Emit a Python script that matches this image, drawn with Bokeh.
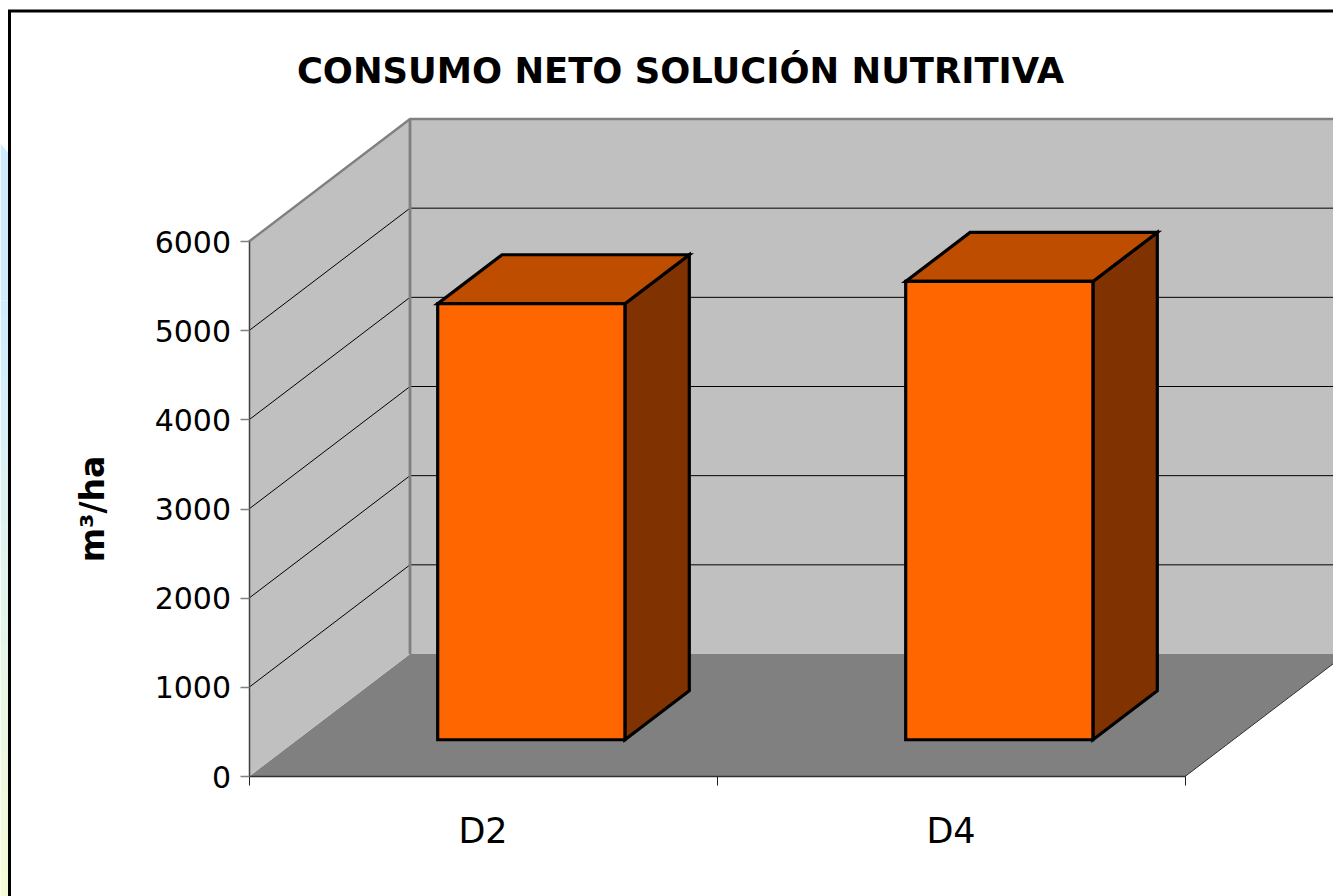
from bokeh.embed import file_html
from bokeh.resources import INLINE
from bokeh.plotting import figure
from bokeh.models import FixedTicker, Label, Range1d

# ---- data
categories = ["D2", "D4"]
consumo = [4890, 5140]
y_ticks = [0, 1000, 2000, 3000, 4000, 5000, 6000]
title_text = "CONSUMO NETO SOLUCIÓN NUTRITIVA"
y_label = "m³/ha"

# ---- layout of the pseudo-3D box (pixels)
W, H = 1333, 896
X0_PX, CAT_PX = 248.5, 468      # axis origin, category width
Y0_PX, UNIT_PX = 776, 535 / 6000  # value 0 position, px per value unit
DX_PX, DY_PX = 161, 122.5       # depth offset of the back wall
GAP_W = 0.40                    # bar width in category units
D0, D1 = 0.30, 0.70             # bar depth span (fraction of box depth)
FONT = "DejaVu Sans"

DX = DX_PX / CAT_PX
DY = DY_PX / UNIT_PX
TOP = y_ticks[-1]
NCAT = len(categories)


def px_x(x):
    return (x - X0_PX) / CAT_PX


def px_y(y):
    return (Y0_PX - y) / UNIT_PX


p = figure(
    width=W, height=H, output_backend="svg", toolbar_location=None,
    x_range=Range1d(px_x(0), px_x(W)), y_range=Range1d(px_y(H), px_y(0)),
    min_border=0, margin=(0, 0, 0, 0),
)
p.outline_line_color = None
p.grid.visible = False
p.background_fill_color = "white"
p.border_fill_color = "white"

XR = px_x(W + 5)

# floor
rdepth = (XR - NCAT) / DX
p.patch([0, DX, XR, XR, NCAT], [0, DY, DY, rdepth * DY, 0],
        fill_color="#808080", line_color=None)
p.line([NCAT, XR], [0, rdepth * DY], line_color="#303030", line_width=1)
# back wall
p.patch([DX, XR, XR, DX], [DY, DY, DY + TOP, DY + TOP],
        fill_color="#c0c0c0", line_color=None)
# left wall
p.patch([0, DX, DX, 0], [0, DY, DY + TOP, TOP],
        fill_color="#c0c0c0", line_color=None)
# grid
for t in y_ticks[1:-1]:
    p.line([0, DX, XR], [t, t + DY, t + DY], line_color="black", line_width=1)
# wall edges
p.line([0, DX, XR], [TOP, TOP + DY, TOP + DY], line_color="#808080", line_width=2.4)
p.line([DX, DX], [DY, TOP + DY], line_color="#808080", line_width=2.8)

# bars
for i, v in enumerate(consumo):
    c = i + 0.5
    xl = c - GAP_W / 2 + D0 * DX
    xr = c + GAP_W / 2 + D0 * DX
    yb = D0 * DY
    yt = yb + v
    ddx = (D1 - D0) * DX
    ddy = (D1 - D0) * DY
    kw = dict(line_color="black", line_width=3.2, line_join="miter")
    p.patch([xr, xr + ddx, xr + ddx, xr], [yb, yb + ddy, yt + ddy, yt], fill_color="#803300", **kw)
    p.patch([xl, xr, xr + ddx, xl + ddx], [yt, yt, yt + ddy, yt + ddy], fill_color="#bf4d00", **kw)
    p.patch([xl, xr, xr, xl], [yb, yb, yt, yt], fill_color="#ff6600", **kw)

# left-hand strip of the slide background
BANDS = 40
S0, S1 = 300, 896
C0, C1 = (207, 236, 255), (245, 251, 214)
p.patch([px_x(0), px_x(7.5), px_x(7.5), px_x(0)],
        [px_y(143), px_y(152), px_y(S0), px_y(S0)],
        fill_color="#cfecff", line_color=None)
for b in range(BANDS):
    f = b / (BANDS - 1)
    col = "#%02x%02x%02x" % tuple(round(a + (z - a) * f) for a, z in zip(C0, C1))
    p.quad(left=px_x(0), right=px_x(7.5),
           top=px_y(S0 + (S1 - S0) * b / BANDS),
           bottom=px_y(S0 + (S1 - S0) * (b + 1) / BANDS + 0.5),
           fill_color=col, line_color=None)

# frame of the chart object
p.line([px_x(9), px_x(9), px_x(W + 5)], [px_y(H + 5), px_y(10.5), px_y(10.5)],
       line_color="black", line_width=3, line_join="miter")

# axes
ya = p.yaxis[0]
ya.fixed_location = 0
ya.bounds = (0, TOP)
ya.ticker = FixedTicker(ticks=y_ticks)
ya.major_tick_in = 0
ya.major_tick_out = 9
ya.major_tick_line_color = "#808080"
ya.major_tick_line_width = 1.5
ya.minor_tick_line_color = None
ya.axis_line_color = "#404040"
ya.axis_line_width = 1.5
ya.major_label_text_font = FONT
ya.major_label_text_font_size = "30px"
ya.major_label_text_color = "black"
ya.major_label_standoff = 9
ya.axis_label = y_label
ya.axis_label_text_font = FONT
ya.axis_label_text_font_style = "bold"
ya.axis_label_text_font_size = "33px"
ya.axis_label_text_color = "black"
ya.axis_label_standoff = 40

xa = p.xaxis[0]
xa.fixed_location = 0
xa.bounds = (0, NCAT)
xa.ticker = FixedTicker(ticks=[i + 0.5 for i in range(NCAT)],
                        minor_ticks=list(range(NCAT + 1)))
xa.major_label_overrides = {i + 0.5: c for i, c in enumerate(categories)}
xa.major_tick_in = 0
xa.major_tick_out = 0
xa.minor_tick_in = 0
xa.minor_tick_out = 9
xa.minor_tick_line_color = "#202020"
xa.axis_line_color = "#303030"
xa.axis_line_width = 1.5
xa.major_label_text_font = FONT
xa.major_label_text_font_size = "35px"
xa.major_label_text_color = "black"
xa.major_label_standoff = 25

title = Label(
    x=px_x(680), y=px_y(70), text=title_text, text_font=FONT, text_font_style="bold",
    text_font_size="35.4px", text_align="center", text_baseline="middle", text_color="black",
)
p.add_layout(title)

open("out.html", "w").write(file_html(p, INLINE))
